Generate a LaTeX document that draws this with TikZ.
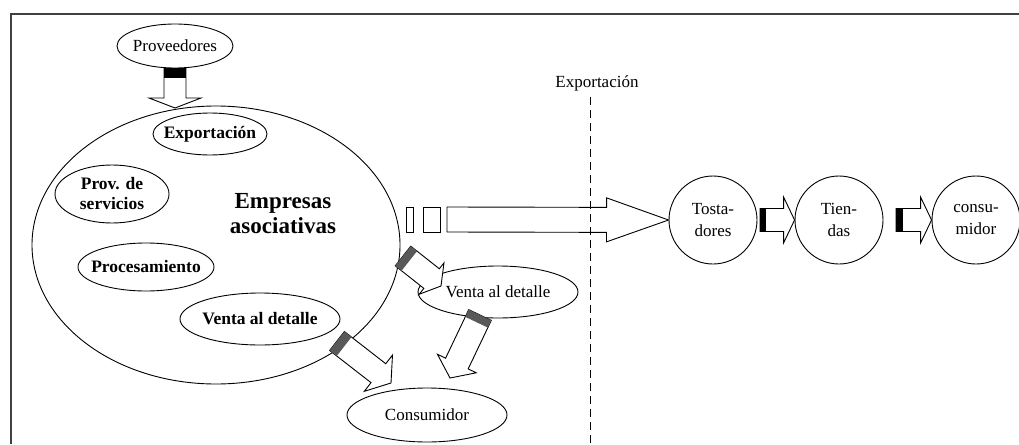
\documentclass[tikz,border=0pt]{standalone}
\usepackage{fontspec}
\setmainfont{Liberation Serif}
\usetikzlibrary{calc,shapes.geometric}
\tikzset{
  % marco y corte
  frame/.style={draw=black!75,line width=2pt},
  cutline/.style={draw=black,line width=1pt,dash pattern=on 8pt off 5pt},
  % ovalos
  ov/.style={ellipse,draw=black,line width=0.9pt,fill=white,inner sep=0pt},
  otxt/.style={label={[font=\fontsize{17}{20}\selectfont,align=center]center:#1}},
  obtxt/.style={label={[font=\fontsize{17.5}{20}\selectfont\bfseries,align=center]center:#1}},
  rund/.style={circle,draw=black,line width=0.9pt,fill=white,minimum size=88pt,
               inner sep=0pt,align=center,font=\fontsize{17}{22}\selectfont},
  % flechas gruesas
  fatedge/.style={draw=black,fill=white,line width=0.9pt,line join=miter},
}
% start, tip, half shaft, half head, head length
\newcommand{\fatarrow}[5]{%
  \coordinate (fa-hb) at ($(#2)!#5!(#1)$);
  \filldraw[fatedge] ($(#1)!#3!90:(#2)$) -- ($(fa-hb)!#3!90:(#2)$) -- ($(fa-hb)!#4!90:(#2)$)
    -- (#2) -- ($(fa-hb)!#4!-90:(#2)$) -- ($(fa-hb)!#3!-90:(#2)$) -- ($(#1)!#3!-90:(#2)$) -- cycle;}
% [colour] start, tip, width, length
\newcommand{\fatband}[5][black]{%
  \draw[#1,line width=#4] (#2) -- ($(#2)!#5!(#3)$);}

\begin{document}
\begin{tikzpicture}[x=1pt,y=-1pt]
  \useasboundingbox (0,0) rectangle (1019,444);
  \draw[frame] (11,444) -- (11,14) -- (1019,14);

  \node[ov,otxt=Proveedores,minimum width=116pt,minimum height=44pt] (prov) at (175,46) {};
  \node[ov,minimum width=368pt,minimum height=278pt] (emp) at (216,245) {};
  \node[ov,obtxt=Exportación,minimum width=114pt,minimum height=42pt] (exp) at (210,134) {};
  \node[ov,obtxt={Prov. de\\servicios},minimum width=114pt,minimum height=58pt] (serv) at (112,194) {};
  \node[ov,obtxt=Procesamiento,minimum width=136pt,minimum height=48pt] (proc) at (146,267) {};
  \node[ov,obtxt=Venta al detalle,minimum width=160pt,minimum height=52pt] (vdi) at (260,319) {};
  \node[font=\fontsize{23}{25}\selectfont\bfseries,align=center] (asoc) at (283,214) {Empresas\\asociativas};
  \node[ov,otxt=Venta al detalle,minimum width=160pt,minimum height=52pt] (vdo) at (498,292) {};
  \node[ov,otxt=Consumidor,minimum width=160pt,minimum height=54pt] (cons) at (427,415) {};

  \node[rund] (tost) at (713,220) {Tosta-\\dores};
  \node[rund] (tien) at (839,220) {Tien-\\das};
  \node[rund] (cmr) at (976,220) {consu-\\midor};

  \coordinate (pv-tip) at (175,108);
  \coordinate (big-s) at (447,219.5);
  \coordinate (tt-s) at (760,220);
  \coordinate (tc-s) at (896,220);
  \coordinate (ev-s) at (403,256);
  \coordinate (ev-tip) at (441,286);
  \coordinate (vc-s) at (337,341);
  \coordinate (vc-tip) at (391,383);
  \coordinate (oc-s) at (480,315);
  \coordinate (oc-tip) at (450,378);

  \fatarrow{prov.south}{pv-tip}{11pt}{26pt}{10pt}
  \fatband{prov.south}{pv-tip}{22pt}{10pt}

  \draw[fatedge] (406,207) rectangle (413,232);
  \draw[fatedge] (423,207) rectangle (440,232);
  \fatarrow{big-s}{tost.west}{12.5pt}{22pt}{62pt}

  \fatarrow{tt-s}{tien.west}{11.5pt}{23pt}{11pt}
  \fatband{tt-s}{tien.west}{23pt}{6pt}
  \fatarrow{tc-s}{cmr.west}{11.5pt}{23pt}{11pt}
  \fatband{tc-s}{cmr.west}{23pt}{7pt}

  \fatarrow{ev-s}{ev-tip}{12.5pt}{20pt}{12pt}
  \fatband[black!65]{ev-s}{ev-tip}{25pt}{8pt}
  \fatarrow{vc-s}{vc-tip}{12pt}{23pt}{16pt}
  \fatband[black!65]{vc-s}{vc-tip}{24pt}{9pt}
  \fatarrow{oc-s}{oc-tip}{12.5pt}{21.5pt}{16pt}
  \fatband[black!65]{oc-s}{oc-tip}{25pt}{8pt}

  \node[font=\fontsize{17}{20}\selectfont] (explbl) at (597,83) {Exportación};
  \coordinate (cut-top) at (590,97);
  \coordinate (cut-bot) at (590,444);
  \draw[cutline] (cut-top) -- (cut-bot);
\end{tikzpicture}
\end{document}
